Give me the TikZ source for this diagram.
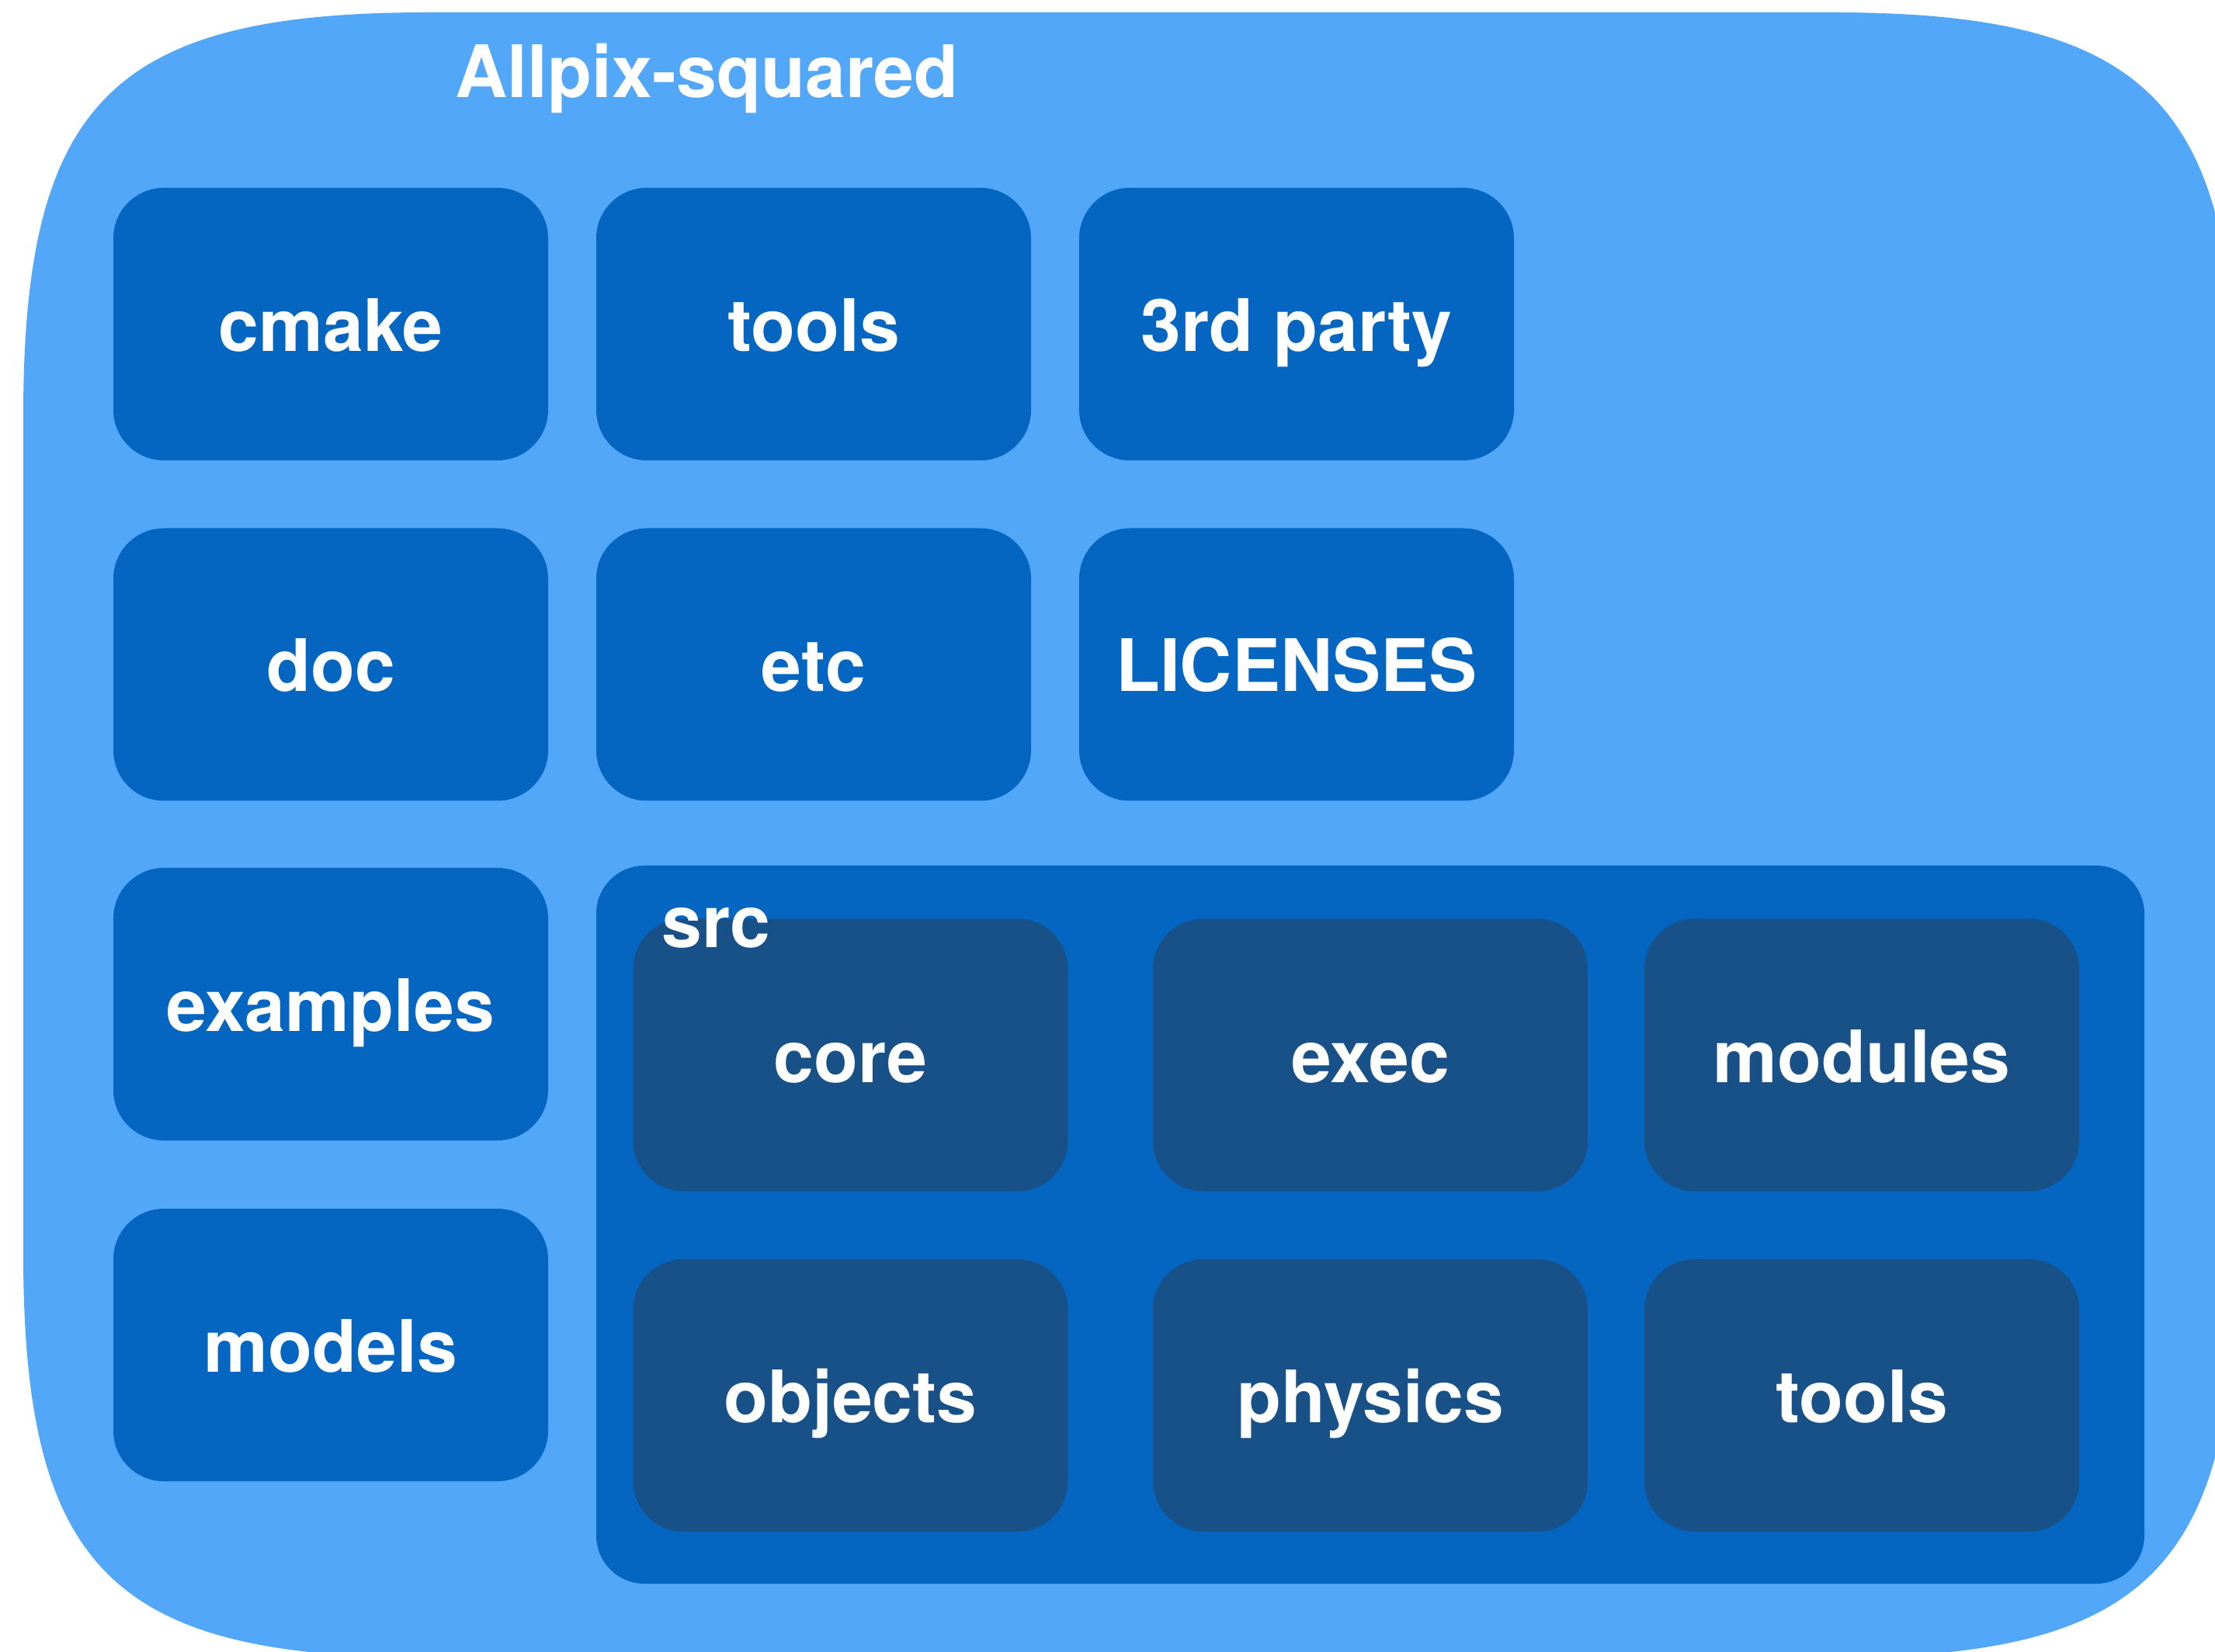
\documentclass[tikz,border=0pt]{standalone}
\usepackage{fontspec}
\setmainfont{TeX Gyre Heros}
\definecolor{azulclaro}{HTML}{53A7F9}
\definecolor{azulmedio}{HTML}{0466C1}
\definecolor{azuloscuro}{HTML}{185088}
\newcommand{\etiqueta}{\fontsize{26.5}{30}\selectfont\bfseries}
\tikzset{
	carpeta/.style={fill=azulmedio, rounded corners=0.65cm, minimum width=5.6cm, minimum height=3.51cm, inner sep=0pt, text=white, font=\etiqueta, text height=0.7cm, text depth=0pt},
	subcarpeta/.style={carpeta, fill=azuloscuro},
	titulo/.style={anchor=base west, text=white, font=\etiqueta, inner sep=0pt},
}
\begin{document}
\begin{tikzpicture}
	\useasboundingbox (0,0) rectangle (28.53,21.27);
	% Caja exterior (esquinas suaves)
		\fill[azulclaro] (5.50,21.11) -- (23.60,21.11) .. controls (27.65,21.11) and (28.80,19.96) .. (28.80,15.91)
			-- (28.80,5.12) .. controls (28.80,1.07) and (27.65,-0.08) .. (23.60,-0.08)
			-- (5.50,-0.08) .. controls (1.45,-0.08) and (0.30,1.07) .. (0.30,5.12)
			-- (0.30,15.91) .. controls (0.30,19.96) and (1.45,21.11) .. cycle;
		\node[titulo] (allpix) at (5.86,20.01) {Allpix-squared};
	% Carpetas
		% Primera fila
			\node[carpeta] (cmake) at (4.26,17.095) {cmake};
			\node[carpeta] (tools) at (10.48,17.095) {tools};
			\node[carpeta] (party) at (16.70,17.095) {3rd party};
		% Segunda fila
			\node[carpeta] (doc) at (4.26,12.71) {doc};
			\node[carpeta] (etc) at (10.48,12.71) {etc};
			\node[carpeta] (licenses) at (16.70,12.71) {LICENSES};
		% Columna izquierda
			\node[carpeta] (examples) at (4.26,8.335) {examples};
			\node[carpeta] (models) at (4.26,3.945) {models};
	% Carpeta src
		\node[fill=azulmedio, rounded corners=0.62cm, minimum width=19.94cm, minimum height=9.25cm] (src) at (17.65,5.495) {};
		\node[subcarpeta] (core) at (10.955,7.68) {core};
		\node[subcarpeta] (exec) at (17.65,7.68) {exec};
		\node[subcarpeta] (modules) at (23.98,7.68) {modules};
		\node[subcarpeta] (objects) at (10.955,3.295) {objects};
		\node[subcarpeta] (physics) at (17.65,3.295) {physics};
		\node[subcarpeta] (srctools) at (23.98,3.295) {tools};
		\node[titulo] (srctitulo) at (8.52,9.06) {src};
\end{tikzpicture}
\end{document}
